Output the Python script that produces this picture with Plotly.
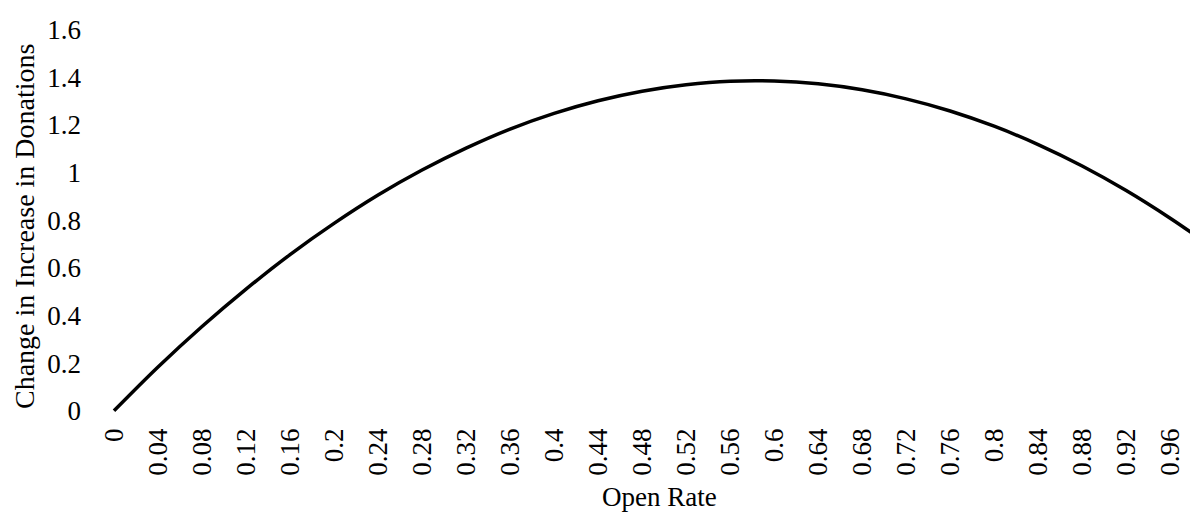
import plotly.graph_objects as go

# Data
open_rate = [0.0, 0.04, 0.08, 0.12, 0.16, 0.20, 0.24, 0.28, 0.32, 0.36, 0.40, 0.44,
             0.48, 0.52, 0.56, 0.60, 0.64, 0.68, 0.72, 0.76, 0.80, 0.84, 0.88, 0.92,
             0.96, 0.98]
donation_change = [0.0, 0.184, 0.354, 0.511, 0.656, 0.787, 0.906, 1.011, 1.103, 1.183,
                   1.249, 1.302, 1.342, 1.369, 1.384, 1.385, 1.373, 1.348, 1.310, 1.259,
                   1.195, 1.118, 1.028, 0.925, 0.809, 0.746]

x_tick_vals = [0.0, 0.04, 0.08, 0.12, 0.16, 0.2, 0.24, 0.28, 0.32, 0.36, 0.4, 0.44,
               0.48, 0.52, 0.56, 0.6, 0.64, 0.68, 0.72, 0.76, 0.8, 0.84, 0.88, 0.92, 0.96]
x_tick_text = ["0", "0.04", "0.08", "0.12", "0.16", "0.2", "0.24", "0.28", "0.32", "0.36",
               "0.4", "0.44", "0.48", "0.52", "0.56", "0.6", "0.64", "0.68", "0.72", "0.76",
               "0.8", "0.84", "0.88", "0.92", "0.96"]
y_tick_vals = [0, 0.2, 0.4, 0.6, 0.8, 1.0, 1.2, 1.4, 1.6]
y_tick_text = ["0", "0.2", "0.4", "0.6", "0.8", "1", "1.2", "1.4", "1.6"]

x_title = "Open Rate"
y_title = "Change in Increase in Donations"

FONT = "Liberation Serif, Times New Roman, serif"

fig = go.Figure()
fig.add_trace(go.Scatter(
    x=open_rate, y=donation_change, mode="lines",
    line=dict(color="black", width=3.5, shape="spline"),
    showlegend=False, hoverinfo="skip",
))

fig.update_layout(
    width=1190, height=512,
    margin=dict(l=103, r=0, t=25, b=94),
    paper_bgcolor="white", plot_bgcolor="white",
    font=dict(family=FONT, size=27, color="black"),
    xaxis=dict(
        range=[-0.01, 0.978], tickvals=x_tick_vals, ticktext=x_tick_text,
        tickangle=-90, showgrid=False, zeroline=False, showline=False,
        ticks="", ticklabelstandoff=4, automargin=False,
        tickfont=dict(family=FONT, size=27, color="black"),
    ),
    yaxis=dict(
        range=[-0.03, 1.62], tickvals=y_tick_vals, ticktext=y_tick_text,
        showgrid=False, zeroline=False, showline=False,
        ticks="", ticklabelstandoff=21, automargin=False,
        tickfont=dict(family=FONT, size=27, color="black"),
    ),
    annotations=[
        dict(text=y_title, xref="paper", yref="paper", x=-0.0727, y=0.4885,
             xanchor="center", yanchor="middle", textangle=-90, showarrow=False,
             font=dict(family=FONT, size=28, color="black")),
        dict(text=x_title, xref="paper", yref="paper", x=0.512, y=-0.201,
             xanchor="center", yanchor="middle", showarrow=False,
             font=dict(family=FONT, size=27, color="black")),
    ],
)

fig.write_html(
    "out.html",
    config={"displayModeBar": False},
    post_script="document.body.style.margin='0';document.body.style.padding='0';"
                "document.body.style.overflow='hidden';",
)
